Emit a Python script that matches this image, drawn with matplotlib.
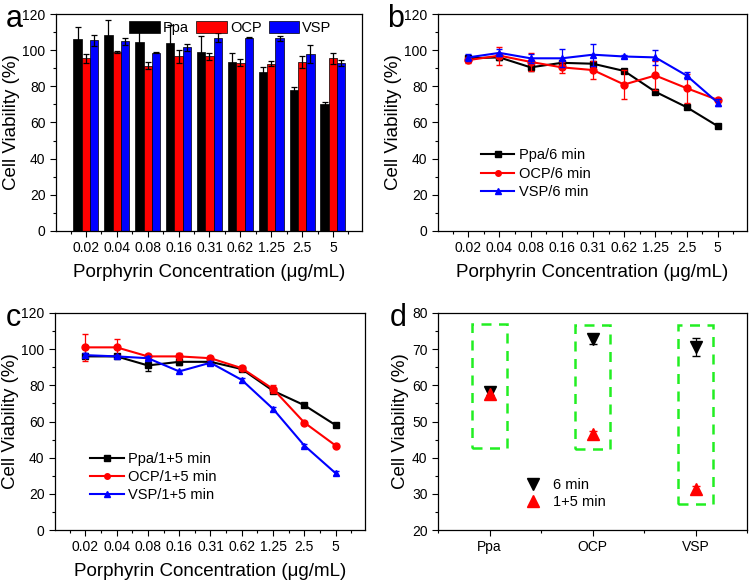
"""
plot.py
-------

Cell viability of Ppa / OCP / VSP vs. porphyrin concentration (4 panels).
"""

import numpy as np
import matplotlib
matplotlib.use('Agg')
import matplotlib.pyplot as plt
from matplotlib.patches import Rectangle
from matplotlib.ticker import MultipleLocator

plt.rcParams['font.family'] = ['Liberation Sans', 'DejaVu Sans']

conc = ['0.02', '0.04', '0.08', '0.16', '0.31', '0.62', '1.25', '2.5', '5']

# panel a: dark toxicity
ppa_dark = [106, 108.5, 104.5, 104, 99, 93.5, 88, 78, 70.5]
ppa_dark_err = [6.6, 8, 6, 10, 9, 5, 2.5, 1.5, 1]
ocp_dark = [95.5, 99, 91.5, 96.5, 96.5, 93, 92.5, 93.5, 95.5]
ocp_dark_err = [2.5, 0.5, 2, 3.5, 2, 2, 1.5, 3.5, 3]
vsp_dark = [105.5, 105, 98.5, 101.5, 107, 107, 106.5, 98, 93]
vsp_dark_err = [3, 2, 0.3, 2, 2.5, 0.5, 1.5, 5, 1.5]

# panel b: 6 min irradiation
ppa_6 = [95.5, 96, 90.5, 93, 92.5, 88.5, 77, 68.5, 58]
ppa_6_err = [1.5, 1.5, 2, 1, 1, 1, 1.5, 1, 0.8]
ocp_6 = [94.5, 97, 93.5, 90.5, 89, 81, 86, 79, 72.5]
ocp_6_err = [1.5, 5, 5, 3, 5, 8, 8, 8, 1]
vsp_6 = [96, 98.5, 95.5, 95.5, 97.5, 96.5, 96, 86, 71]
vsp_6_err = [2, 2, 2.5, 5, 6, 1, 4, 2, 2]

# panel c: 1+5 min irradiation
ppa_15 = [96, 96, 91, 93, 93, 89, 77, 69, 58]
ppa_15_err = [1, 1, 3, 1.5, 1, 1, 1, 0.8, 0.8]
ocp_15 = [101, 101, 96, 96, 95, 89.5, 78, 59.4, 46.7]
ocp_15_err = [7.5, 4.5, 1.5, 2, 1, 1, 2, 1, 0.8]
vsp_15 = [96.7, 96, 95, 87.7, 92.5, 83, 67, 46.7, 31.4]
vsp_15_err = [1, 1, 1, 1, 1, 1, 1, 1, 1]

# panel d: values at 5 ug/mL
groups = ['Ppa', 'OCP', 'VSP']
min6 = [58.2, 72.8, 70.6]
min6_err = [0.8, 1.3, 2.4]
min15 = [57.6, 46.5, 31.3]
min15_err = [1, 1, 1]
box_low = [42.8, 42.5, 27.1]
box_high = [77, 76.8, 76.8]

TICK_FS = 10
LABEL_FS = 13.5


def style_axes(ax):
    """Origin-like axes: outward ticks on bottom/left only."""
    ax.tick_params(axis='both', which='both', direction='out', top=False, right=False,
                   labelsize=TICK_FS, width=0.8)
    ax.tick_params(which='major', length=4)
    ax.tick_params(which='minor', length=2.5)
    for s in ax.spines.values():
        s.set_linewidth(0.9)


def panel_letter(ax, letter, lx):
    ax.text(lx, 0.94, letter, transform=ax.transAxes, fontsize=22, va='baseline', ha='right')


def concentration_axes(ax, letter):
    x = np.arange(1, len(conc) + 1)
    ax.set_xlim(0.03, 9.94)
    ax.set_xticks(x)
    ax.set_xticklabels(conc)
    ax.xaxis.set_minor_locator(MultipleLocator(0.5))
    ax.set_ylim(0, 120)
    ax.yaxis.set_major_locator(MultipleLocator(20))
    ax.yaxis.set_minor_locator(MultipleLocator(10))
    ax.set_xlabel('Porphyrin Concentration (\u03bcg/mL)', fontsize=LABEL_FS, labelpad=6)
    ax.set_ylabel('Cell Viability (%)', fontsize=LABEL_FS, labelpad=2)
    panel_letter(ax, letter, -0.11)
    style_axes(ax)
    return x


def line_panel(ax, series, letter, legend_xy):
    x = concentration_axes(ax, letter)
    for vals, errs, color, marker, label in series:
        ax.errorbar(x, vals, yerr=errs, fmt='none', ecolor=color, capsize=2.5,
                    elinewidth=0.9)
        ax.plot(x, vals, color=color, marker=marker, markersize=5, lw=1.5, label=label)
    ax.legend(loc='lower left', bbox_to_anchor=legend_xy, frameon=False,
              fontsize=10.5, handlelength=2.3, handletextpad=0.3, labelspacing=0.3,
              borderaxespad=0, markerscale=0.8)


fig = plt.figure(figsize=(7.5, 5.82), dpi=100)
ax_a = fig.add_axes([56 / 750, 1 - 231 / 582, 306 / 750, 217 / 582])
ax_b = fig.add_axes([438 / 750, 1 - 231 / 582, 309 / 750, 217 / 582])
ax_c = fig.add_axes([55 / 750, 1 - 530 / 582, 310 / 750, 217 / 582])
ax_d = fig.add_axes([438 / 750, 1 - 530 / 582, 309 / 750, 217 / 582])

# a: grouped bars
x = concentration_axes(ax_a, 'a')
w = 0.27
for off, vals, errs, color, label in [(-w, ppa_dark, ppa_dark_err, 'black', 'Ppa'),
                                      (0, ocp_dark, ocp_dark_err, 'red', 'OCP'),
                                      (w, vsp_dark, vsp_dark_err, 'blue', 'VSP')]:
    ax_a.bar(x + off, vals, w, yerr=errs, color=color, edgecolor='black', lw=0.5,
             label=label, error_kw=dict(elinewidth=0.9, capsize=2.5, capthick=0.9))
ax_a.legend(loc='upper center', bbox_to_anchor=(0.57, 0.995), ncol=3, frameon=False,
            fontsize=10.5, handlelength=2.1, handleheight=0.95, handletextpad=0.2,
            columnspacing=0.5, borderaxespad=0)

# b: 6 min
line_panel(ax_b, [(ppa_6, ppa_6_err, 'black', 's', 'Ppa/6 min'),
                  (ocp_6, ocp_6_err, 'red', 'o', 'OCP/6 min'),
                  (vsp_6, vsp_6_err, 'blue', '^', 'VSP/6 min')],
           'b', (0.12, 0.12))

# c: 1+5 min
line_panel(ax_c, [(ppa_15, ppa_15_err, 'black', 's', 'Ppa/1+5 min'),
                  (ocp_15, ocp_15_err, 'red', 'o', 'OCP/1+5 min'),
                  (vsp_15, vsp_15_err, 'blue', '^', 'VSP/1+5 min')],
           'c', (0.095, 0.1))

# d: comparison at 5 ug/mL
xd = np.arange(1, len(groups) + 1)
ax_d.set_xlim(0.5, 3.5)
ax_d.set_ylim(20, 80)
ax_d.set_xticks(xd)
ax_d.set_xticklabels(groups)
ax_d.xaxis.set_minor_locator(MultipleLocator(0.5))
ax_d.yaxis.set_major_locator(MultipleLocator(10))
ax_d.yaxis.set_minor_locator(MultipleLocator(5))
ax_d.set_ylabel('Cell Viability (%)', fontsize=LABEL_FS, labelpad=2)
panel_letter(ax_d, 'd', -0.1)
style_axes(ax_d)
for xi, lo, hi in zip(xd, box_low, box_high):
    ax_d.add_patch(Rectangle((xi - 0.17, lo), 0.34, hi - lo, fill=False,
                             edgecolor='#22ee22', lw=1.8, linestyle=(0, (4, 3))))
ax_d.errorbar(xd, min6, yerr=min6_err, fmt='none', ecolor='black', capsize=3,
              elinewidth=0.9)
ax_d.errorbar(xd, min15, yerr=min15_err, fmt='none', ecolor='red', capsize=3,
              elinewidth=0.9)
ax_d.plot(xd, min6, 'v', color='black', markersize=8.5, label='6 min')
ax_d.plot(xd, min15, '^', color='red', markersize=8.5, label='1+5 min')
ax_d.legend(loc='lower left', bbox_to_anchor=(0.26, 0.07), frameon=False, fontsize=10.5,
            handlelength=1.2, handletextpad=0.8, labelspacing=0.2, borderaxespad=0)

fig.savefig('out.png', dpi=100)
